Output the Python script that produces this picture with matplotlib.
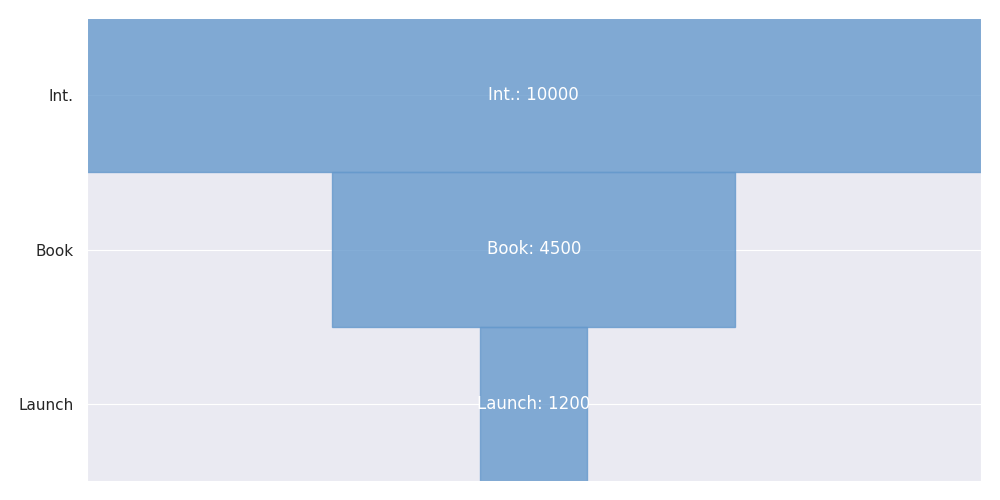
import matplotlib
matplotlib.use("Agg")
import matplotlib.pyplot as plt
import seaborn as sns
import numpy as np

# funnel stages and counts
stages = ["Int.", "Book", "Launch"]
counts = [10000, 4500, 1200]

sns.set_style("darkgrid")

fig, ax = plt.subplots(figsize=(10, 5), dpi=100)
fig.subplots_adjust(left=0.0865, right=0.981, top=0.964, bottom=0.038)

y = np.arange(len(stages))
widths = np.array(counts)
# center each bar around zero
ax.barh(y, widths, left=-widths / 2, height=1.0, color="#6699CC",
        alpha=0.8, edgecolor="#6699CC", linewidth=1)

for i, (s, c) in enumerate(zip(stages, counts)):
    ax.text(0, i, f"{s}: {c}", ha="center", va="center", color="white", fontsize=12)

ax.set_yticks(y)
ax.set_yticklabels(stages, fontsize=11)
ax.tick_params(axis="y", pad=5.8)
ax.set_ylim(len(stages) - 0.5, -0.5)
ax.set_xlim(-max(counts) / 2, max(counts) / 2)
ax.set_xticks([])
ax.grid(axis="x", visible=False)

plt.savefig("out.png")
